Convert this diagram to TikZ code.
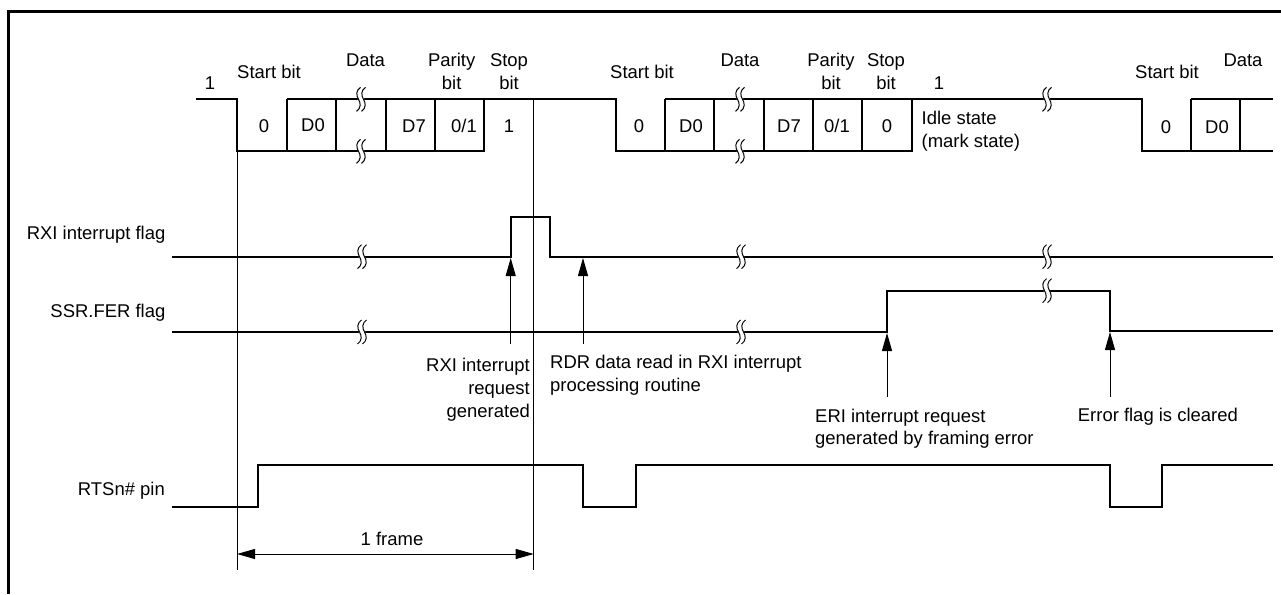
\documentclass[tikz,border=0pt]{standalone}
\usepackage{fontspec}
\setmainfont{Liberation Sans}
\usetikzlibrary{arrows.meta}
\tikzset{
  wave/.style={line width=1.7pt,line join=miter},
  guide/.style={line width=1pt},
  frameline/.style={line width=3pt},
  lbl/.style={inner sep=0pt,font=\fontsize{18.45}{23}\selectfont,text height=13.5pt,text depth=0pt},
  lblr/.style={lbl,anchor=east,align=right},
  lbll/.style={lbl,anchor=west},
  ptr/.style={line width=1pt,-{Triangle[length=18pt,width=10pt]}},
  dim/.style={line width=1pt,{Triangle[length=18pt,width=10pt]}-{Triangle[length=18pt,width=10pt]}},
  brk/.pic={
    \fill[white] (-2.8,-4) -- (3.4,-4) -- (2.8,4) -- (-3.4,4) -- cycle;
    \foreach \d in {-2.5,2.5}
      \draw[line width=1pt] (\d+2,-12) .. controls (\d-2.5,-9) and (\d-2.5,-4) .. (\d,0) .. controls (\d+2.5,4) and (\d+2.5,9) .. (\d-2,12);
  }
}
\begin{document}
\begin{tikzpicture}[x=1pt,y=-1pt]
\useasboundingbox (0,0) rectangle (1281,594);
\fill[white] (0,0) rectangle (1281,594);
% frame
\coordinate (fa) at (8,594); \coordinate (fb) at (8,11.5); \coordinate (fc) at (1281,11.5);
\draw[frameline,line join=miter] (fa) -- (fb) -- (fc);
% vertical guides
\coordinate (g1t) at (237,99); \coordinate (g1b) at (237,570);
\coordinate (g2t) at (533.7,99); \coordinate (g2b) at (533.7,570);
\draw[guide] (g1t) -- (g1b);
\draw[guide] (g2t) -- (g2b);
% serial data waveform
\draw[wave] (196,99.3) -- (237.3,99.3) -- (237.3,151.3) -- (484.3,151.3) -- (484.3,99.3) -- (616,99.3) -- (616,151.3) -- (911.7,151.3) -- (911.7,99.3) -- (1141.7,99.3) -- (1141.7,151.3) -- (1273,151.3);
\draw[wave] (287,99.3) -- (484.3,99.3);
\draw[wave] (665,99.3) -- (911.7,99.3);
\draw[wave] (1190.7,99.3) -- (1273,99.3);
\foreach \x in {287,336.3,385.7,435,665,714.3,763.7,813,862.3,1190.7,1240}
  \draw[wave] (\x,99.3) -- (\x,151.3);
% RXI flag
\draw[wave] (172,256.7) -- (510.7,256.7) -- (510.7,216.7) -- (550,216.7) -- (550,256.7) -- (1273,256.7);
% SSR.FER flag
\draw[wave] (172,332) -- (887,332) -- (887,290.7) -- (1110,290.7) -- (1110,331) -- (1273,331);
% RTS pin
\draw[wave] (171.5,507) -- (258,507) -- (258,465) -- (583,465) -- (583,507) -- (636,507) -- (636,465) -- (1110,465) -- (1110,507) -- (1162,507) -- (1162,465) -- (1273,465);
% breaks
\foreach \x/\y in {361/99.3,361/151.3,740/99.3,740/151.3,1047/99.3,
                   362/256.7,741/256.7,1047/256.7,
                   362/332,741/332,1047/290.7}
  \pic at (\x,\y) {brk};
% arrows
\coordinate (a1s) at (510.7,344); \coordinate (a1e) at (510.7,258);
\coordinate (a2s) at (583,344);   \coordinate (a2e) at (583,258);
\coordinate (a3s) at (887,397);   \coordinate (a3e) at (887,333);
\coordinate (a4s) at (1110,397);  \coordinate (a4e) at (1110,332);
\draw[ptr] (a1s) -- (a1e);
\draw[ptr] (a2s) -- (a2e);
\draw[ptr] (a3s) -- (a3e);
\draw[ptr] (a4s) -- (a4e);
\draw[dim] (g1b |- 0,554) -- (g2b |- 0,554);
% top labels
\node[lbl] (t1) at (210,83) {1};
\node[lbl] (t2) at (269,72) {Start bit};
\node[lbl] (t3) at (365.5,60) {Data};
\node[lbl] (t4) at (451.7,60) {Parity};
\node[lbl] (t5) at (451.7,83) {bit};
\node[lbl] (t6) at (509,60) {Stop};
\node[lbl] (t7) at (509,83) {bit};
\node[lbl] (t8) at (642,72) {Start bit};
\node[lbl] (t9) at (740,60) {Data};
\node[lbl] (t10) at (831,60) {Parity};
\node[lbl] (t11) at (831,83) {bit};
\node[lbl] (t12) at (886,60) {Stop};
\node[lbl] (t13) at (886,83) {bit};
\node[lbl] (t14) at (939,83) {1};
\node[lbl] (t15) at (1167,72) {Start bit};
\node[lbl] (t16) at (1243,60) {Data};
% bit values
\node[lbl] (b1) at (264,126) {0};
\node[lbl] (b2) at (313,125) {D0};
\node[lbl] (b3) at (414,126) {D7};
\node[lbl] (b4) at (464,126) {0/1};
\node[lbl] (b5) at (509,126) {1};
\node[lbl] (b6) at (639,126) {0};
\node[lbl] (b7) at (691,126) {D0};
\node[lbl] (b8) at (789,126) {D7};
\node[lbl] (b9) at (837,126) {0/1};
\node[lbl] (b10) at (887,126) {0};
\node[lbl] (b11) at (1166,127) {0};
\node[lbl] (b12) at (1217,127) {D0};
\node[lbll] (idle) at (921.5,118) {Idle state};
\node[lbll] (mark) at (921.5,141) {(mark state)};
% signal names
\node[lblr] (s1) at (165.5,232.5) {RXI interrupt flag};
\node[lblr] (s2) at (165.5,310.5) {SSR.FER flag};
\node[lblr] (s3) at (165,489) {RTSn\# pin};
% annotations
\node[lblr] (n1) at (530,365) {RXI interrupt};
\node[lblr] (n2) at (530,388) {request};
\node[lblr] (n3) at (530,411) {generated};
\node[lbll] (n4) at (550,362) {RDR data read in RXI interrupt};
\node[lbll] (n5) at (550,384.5) {processing routine};
\node[lbll] (n6) at (815,415.5) {ERI interrupt request};
\node[lbll] (n7) at (815,437.5) {generated by framing error};
\node[lbll] (n8) at (1077.7,414.5) {Error flag is cleared};
\node[lbl] (n9) at (392,539) {1 frame};
\end{tikzpicture}
\end{document}
